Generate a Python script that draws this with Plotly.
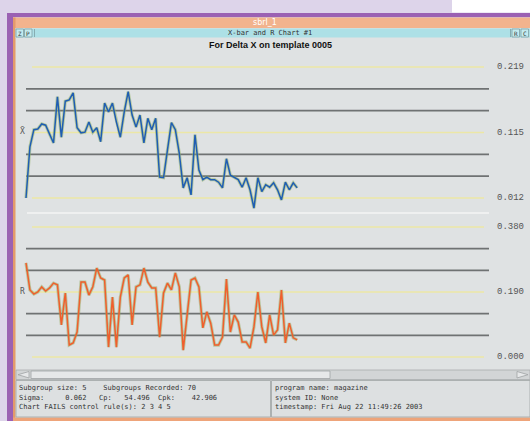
import plotly.graph_objects as go

W, H = 530, 421

# ---------------- data ----------------
subgroups = list(range(1, 71))
xbar_values = [0.012, 0.093, 0.120, 0.121, 0.129, 0.127, 0.113, 0.099, 0.172, 0.108,
               0.165, 0.167, 0.178, 0.123, 0.115, 0.116, 0.132, 0.116, 0.123, 0.101,
               0.162, 0.148, 0.162, 0.132, 0.108, 0.148, 0.180, 0.143, 0.124, 0.143,
               0.099, 0.138, 0.120, 0.138, 0.045, 0.044, 0.088, 0.131, 0.120, 0.083,
               0.028, 0.044, 0.017, 0.112, 0.056, 0.041, 0.045, 0.041, 0.041, 0.037,
               0.028, 0.074, 0.048, 0.045, 0.041, 0.029, 0.044, 0.025, -0.004, 0.044,
               0.022, 0.033, 0.029, 0.036, 0.025, 0.009, 0.037, 0.025, 0.036, 0.028]
range_values = [0.275, 0.196, 0.184, 0.190, 0.205, 0.193, 0.202, 0.216, 0.211, 0.094,
                0.187, 0.035, 0.041, 0.073, 0.219, 0.219, 0.181, 0.205, 0.260, 0.231,
                0.225, 0.029, 0.175, 0.029, 0.175, 0.231, 0.240, 0.094, 0.205, 0.211,
                0.260, 0.219, 0.202, 0.202, 0.058, 0.187, 0.216, 0.196, 0.246, 0.205,
                0.020, 0.123, 0.225, 0.231, 0.205, 0.085, 0.132, 0.099, 0.035, 0.035,
                0.058, 0.228, 0.073, 0.123, 0.102, 0.044, 0.044, 0.026, 0.088, 0.190,
                0.088, 0.041, 0.123, 0.064, 0.079, 0.196, 0.041, 0.099, 0.056, 0.050]
xbar_limits = [0.012, 0.1155, 0.219]      # LCL, CL, UCL
range_limits = [0.000, 0.190, 0.380]      # LCL, CL, UCL
xbar_labels = ["0.012", "0.115", "0.219"]
range_labels = ["0.000", "0.190", "0.380"]

window_title = "sbrl_1"
bar_title = "X-bar and R Chart #1"
chart_title = "For Delta X on template 0005"
status_left = ["Subgroup size: 5    Subgroups Recorded: 70",
               "Sigma:     0.062   Cp:   54.496  Cpk:    42.906",
               "Chart FAILS control rule(s): 2 3 4 5"]
status_right = ["program name: magazine",
                "system ID: None",
                "timestamp: Fri Aug 22 11:49:26 2003"]

# ---------------- helpers (pixel -> paper) ----------------
def px(x):
    return x / W


def py(y):
    return 1 - y / H


shapes = []
annotations = []


def rect(x0, y0, x1, y1, fill, line_color=None, lw=0):
    shapes.append(dict(type="rect", xref="paper", yref="paper",
                       x0=px(x0), x1=px(x1), y0=py(y1), y1=py(y0),
                       fillcolor=fill, layer="below",
                       line=dict(width=lw, color=line_color or fill)))


def hline(x0, x1, y, color, w):
    shapes.append(dict(type="line", xref="paper", yref="paper",
                       x0=px(x0), x1=px(x1), y0=py(y), y1=py(y),
                       line=dict(color=color, width=w), layer="below"))


def vline(x, y0, y1, color, w):
    shapes.append(dict(type="line", xref="paper", yref="paper",
                       x0=px(x), x1=px(x), y0=py(y0), y1=py(y1),
                       line=dict(color=color, width=w), layer="below"))


def tri(points, fill, line_color):
    d = "M " + " L ".join(f"{px(a):.5f},{py(b):.5f}" for a, b in points) + " Z"
    shapes.append(dict(type="path", xref="paper", yref="paper", path=d,
                       fillcolor=fill, line=dict(color=line_color, width=0.8),
                       layer="below"))


def text(x, y, s, size, color, family="DejaVu Sans Mono", xanchor="left", bold=False):
    s = s.replace(" ", "\u00a0")
    if bold:
        s = "<b>" + s + "</b>"
    annotations.append(dict(x=px(x), y=py(y), xref="paper", yref="paper",
                            text=s, showarrow=False,
                            xanchor=xanchor, yanchor="middle",
                            font=dict(size=size, color=color, family=family)))


GREY = "#dfe2e3"
PURPLE = "#9b61b3"
CYAN = "#ade0e6"

# ---------------- window chrome ----------------
rect(452, 0, 530, 12.5, "#ffffff")
rect(7, 13, 530, 17.5, PURPLE)
rect(7, 13, 13, 421, PURPLE)
rect(13, 17.5, 530, 421, GREY)
rect(13, 17.5, 530, 28, "#f2b38d")
rect(13, 17.5, 15.5, 421, "#e39a6b")
rect(13, 417.5, 530, 421, "#eea47a")
rect(15.5, 28.5, 530, 37.5, CYAN)
for bx in (16, 24.5, 512, 521):
    rect(bx, 29, bx + 7.5, 37, "#c3ebef", "#7d9fa4", 0.8)
vline(34.5, 29, 37, "#7d9fa4", 0.8)
vline(510.5, 29, 37, "#7d9fa4", 0.8)
for bx, ch in ((16, "Z"), (24.5, "P"), (512, "R"), (521, "C")):
    text(bx + 3.75, 33, ch, 6, "#333333", xanchor="center")

# scrollbar
rect(16, 370, 530, 379.5, "#d2d5d6", "#a8acad", 0.8)
tri([(29, 371.5), (18, 374.7), (29, 378)], "#e6e8e9", "#9fa3a4")
rect(31, 371, 330, 378.5, "#e6e8e9", "#9fa3a4", 0.8)
tri([(517, 371.5), (528, 374.7), (517, 378)], "#e6e8e9", "#9fa3a4")

# status panel
rect(16, 380.5, 270.5, 417, "#dde0e1", "#a0a4a5", 0.8)
rect(271.5, 380.5, 530, 417, "#dde0e1", "#a0a4a5", 0.8)

# separator between the two charts
hline(27, 489, 213, "#f4f5f5", 1.6)

# ---------------- control-limit lines (data coordinates) ----------------
def limit_lines(limits, yref):
    lcl, cl, ucl = limits
    sigma = (ucl - cl) / 3
    for v in limits:
        shapes.append(dict(type="line", xref="paper", yref=yref,
                           x0=px(32), x1=px(484), y0=v, y1=v,
                           line=dict(color="#ece7a6", width=1.6), layer="below"))
    for k in (-2, -1, 1, 2):
        v = cl + k * sigma
        shapes.append(dict(type="line", xref="paper", yref=yref,
                           x0=px(26), x1=px(489), y0=v, y1=v,
                           line=dict(color="#6f7273", width=1.6), layer="below"))


limit_lines(xbar_limits, "y")
limit_lines(range_limits, "y2")

for v, lab in zip(xbar_limits, xbar_labels):
    annotations.append(dict(x=px(495), y=v, xref="paper", yref="y", text=lab,
                            showarrow=False, xanchor="left", yanchor="middle",
                            font=dict(size=9, color="#555555", family="Liberation Mono")))
for v, lab in zip(range_limits, range_labels):
    annotations.append(dict(x=px(495), y=v, xref="paper", yref="y2", text=lab,
                            showarrow=False, xanchor="left", yanchor="middle",
                            font=dict(size=9, color="#555555", family="Liberation Mono")))

# ---------------- texts ----------------
text(265, 22.5, window_title, 8, "#ffffff", family="DejaVu Sans", xanchor="center")
text(270, 33, bar_title, 7, "#333333", xanchor="center")
text(270, 45, chart_title, 9, "#111111", family="Liberation Sans", xanchor="center", bold=True)
text(18, 131, "X\u0304", 8, "#555555")
text(18, 291, "R", 8, "#555555")
for i, s in enumerate(status_left):
    text(17, 388 + 9.5 * i, s, 7, "#333333")
for i, s in enumerate(status_right):
    text(273, 388 + 9.5 * i, s, 7, "#333333")

# ---------------- axes geometry ----------------
x_first_px, x_step_px = 26, 3.93
x_dom = (16, 490)
x_range = [1 - (x_first_px - x_dom[0]) / x_step_px, 1 + (x_dom[1] - x_first_px) / x_step_px]


def y_range(limits, ucl_px, lcl_px, top_px, bot_px):
    lcl, _, ucl = limits
    scale = (lcl_px - ucl_px) / (ucl - lcl)
    return [lcl - (bot_px - lcl_px) / scale, ucl + (ucl_px - top_px) / scale]


y1_range = y_range(xbar_limits, 67, 198, 60, 215)
y2_range = y_range(range_limits, 227, 357, 220, 365)

fig = go.Figure()
fig.add_trace(go.Scatter(x=subgroups, y=xbar_values, mode="lines", xaxis="x", yaxis="y",
                         line=dict(color="rgba(150,180,105,0.55)", width=3.2), hoverinfo="skip"))
fig.add_trace(go.Scatter(x=subgroups, y=xbar_values, mode="lines", xaxis="x", yaxis="y",
                         line=dict(color="#1f5db3", width=1.5)))
fig.add_trace(go.Scatter(x=subgroups, y=range_values, mode="lines", xaxis="x", yaxis="y2",
                         line=dict(color="rgba(150,170,95,0.5)", width=3.2), hoverinfo="skip"))
fig.add_trace(go.Scatter(x=subgroups, y=range_values, mode="lines", xaxis="x", yaxis="y2",
                         line=dict(color="#f05e2c", width=1.5)))

axis_off = dict(showgrid=False, zeroline=False, showticklabels=False, showline=False, ticks="")
fig.update_layout(
    width=W, height=H, margin=dict(l=0, r=0, t=0, b=0),
    paper_bgcolor="#ddd4ea", plot_bgcolor="rgba(0,0,0,0)",
    showlegend=False,
    xaxis=dict(domain=[px(x_dom[0]), px(x_dom[1])], range=x_range, **axis_off),
    yaxis=dict(domain=[py(215), py(60)], range=y1_range, anchor="x", **axis_off),
    yaxis2=dict(domain=[py(365), py(220)], range=y2_range, anchor="x", **axis_off),
    shapes=shapes, annotations=annotations,
)

fig.write_html("out.html", config={"displayModeBar": False},
               post_script="document.body.style.margin='0';document.body.style.overflow='hidden';")
